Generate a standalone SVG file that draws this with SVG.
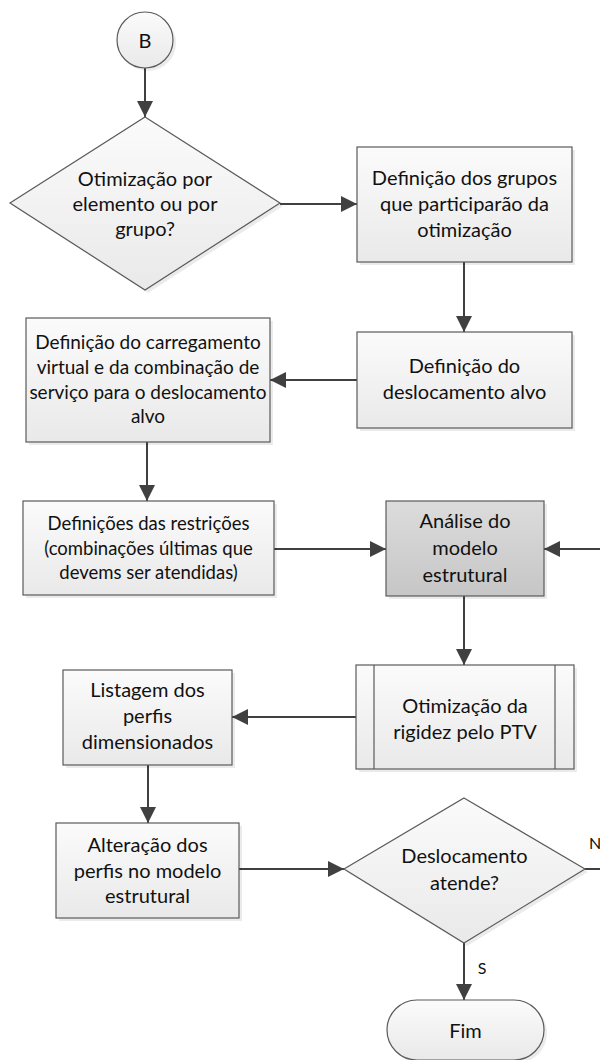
<svg xmlns="http://www.w3.org/2000/svg" width="600" height="1060" viewBox="0 0 600 1060">
<defs>
<linearGradient id="g" x1="0" y1="0" x2="0" y2="1">
<stop offset="0" stop-color="#fbfbfb"/>
<stop offset="1" stop-color="#e9e9e9"/>
</linearGradient>
<linearGradient id="gd" x1="0" y1="0" x2="0" y2="1">
<stop offset="0" stop-color="#dcdcdc"/>
<stop offset="1" stop-color="#c6c6c6"/>
</linearGradient>
<marker id="ah" markerUnits="userSpaceOnUse" markerWidth="16" markerHeight="16" viewBox="0 0 16 16" refX="16" refY="8" orient="auto">
<path d="M0,0 L16,8 L0,16 z" fill="#404040"/>
</marker>
</defs>
<style>
.s{fill:url(#g);stroke:#5a5a5a;stroke-width:1.2}
.d{fill:url(#gd);stroke:#5a5a5a;stroke-width:1.2}
.sh{fill:#000;fill-opacity:0.08;stroke:none}
.c{fill:none;stroke:#404040;stroke-width:2}
.a{marker-end:url(#ah)}
text{font-family:Lato,"Liberation Sans",sans-serif;font-size:20px;fill:#111;text-anchor:middle}
.sm{font-size:18.5px}
.md{font-size:19px}
.lb{font-size:16px}
</style>
<rect width="600" height="1060" fill="#fff"/>

<g id="connectors">
<line class="c a" x1="145" y1="68" x2="145" y2="117"/>
<line class="c a" x1="280" y1="204" x2="357" y2="204"/>
<line class="c a" x1="464" y1="262" x2="464" y2="332"/>
<line class="c a" x1="357" y1="380" x2="270" y2="380"/>
<line class="c a" x1="147" y1="442" x2="147" y2="501"/>
<line class="c a" x1="274" y1="549" x2="386" y2="549"/>
<line class="c a" x1="464" y1="596" x2="464" y2="665"/>
<line class="c a" x1="356" y1="717" x2="232" y2="717"/>
<line class="c a" x1="148" y1="765" x2="148" y2="823"/>
<line class="c a" x1="239" y1="869" x2="344" y2="869"/>
<line class="c a" x1="464" y1="943" x2="464" y2="1000"/>
<polyline class="c a" points="585,869 612,869 612,549 544,549"/>
<text class="lb" x="482" y="974">S</text>
<text class="lb" x="595" y="849">N</text>
</g>

<g id="start">
<circle class="sh" cx="148" cy="43" r="28"/>
<circle class="s" cx="145" cy="40" r="28"/>
<text x="145" y="48">B</text>
</g>

<g id="decision1">
<polygon class="sh" points="148,120 283,206 148,293 13,206"/>
<polygon class="s" points="145,117 280,203 145,290 10,203"/>
<text x="145" y="186">Otimização por</text>
<text x="145" y="211">elemento ou por</text>
<text x="145" y="236">grupo?</text>
</g>

<g id="grupos">
<rect class="sh" x="360" y="150" width="215" height="115"/>
<rect class="s" x="357" y="147" width="215" height="115"/>
<text x="464.5" y="185">Definição dos grupos</text>
<text x="464.5" y="211">que participarão da</text>
<text x="464.5" y="237">otimização</text>
</g>

<g id="deslocamento">
<rect class="sh" x="360" y="335" width="215" height="96"/>
<rect class="s" x="357" y="332" width="215" height="96"/>
<text x="464.5" y="373">Definição do</text>
<text x="464.5" y="399">deslocamento alvo</text>
</g>

<g id="carregamento">
<rect class="sh" x="29" y="321" width="244" height="124"/>
<rect class="s" x="26" y="318" width="244" height="124"/>
<text class="md" x="148" y="349">Definição do carregamento</text>
<text class="md" x="148" y="374">virtual e da combinação de</text>
<text class="md" x="148" y="399">serviço para o deslocamento</text>
<text class="md" x="148" y="423">alvo</text>
</g>

<g id="restricoes">
<rect class="sh" x="26" y="504" width="251" height="94"/>
<rect class="s" x="23" y="501" width="251" height="94"/>
<text class="sm" x="148.5" y="530">Definições das restrições</text>
<text class="sm" x="148.5" y="555">(combinações últimas que</text>
<text class="sm" x="148.5" y="579">devems ser atendidas)</text>
</g>

<g id="analise">
<rect class="sh" x="389" y="504" width="158" height="95"/>
<rect class="d" x="386" y="501" width="158" height="95"/>
<text x="465" y="528">Análise do</text>
<text x="465" y="555">modelo</text>
<text x="465" y="582">estrutural</text>
</g>

<g id="otimizacao">
<rect class="sh" x="359" y="668" width="218" height="104"/>
<rect class="s" x="356" y="665" width="218" height="104"/>
<line x1="374" y1="665" x2="374" y2="769" stroke="#5a5a5a" stroke-width="1.2"/>
<line x1="555" y1="665" x2="555" y2="769" stroke="#5a5a5a" stroke-width="1.2"/>
<text x="465" y="713">Otimização da</text>
<text x="465" y="739">rigidez pelo PTV</text>
</g>

<g id="listagem">
<rect class="sh" x="66" y="673" width="169" height="95"/>
<rect class="s" x="63" y="670" width="169" height="95"/>
<text x="147.5" y="697">Listagem dos</text>
<text x="147.5" y="723">perfis</text>
<text x="147.5" y="749">dimensionados</text>
</g>

<g id="alteracao">
<rect class="sh" x="59" y="826" width="183" height="95"/>
<rect class="s" x="56" y="823" width="183" height="95"/>
<text x="147.5" y="852">Alteração dos</text>
<text x="147.5" y="878">perfis no modelo</text>
<text x="147.5" y="903">estrutural</text>
</g>

<g id="decision2">
<polygon class="sh" points="467,801 588,872 467,946 347,872"/>
<polygon class="s" points="464,798 585,869 464,943 344,869"/>
<text x="464.5" y="863">Deslocamento</text>
<text x="464.5" y="890">atende?</text>
</g>

<g id="fim">
<rect class="sh" x="390" y="1003" width="157" height="60" rx="30"/>
<rect class="s" x="387" y="1000" width="157" height="60" rx="30"/>
<text x="465.5" y="1038">Fim</text>
</g>
</svg>
